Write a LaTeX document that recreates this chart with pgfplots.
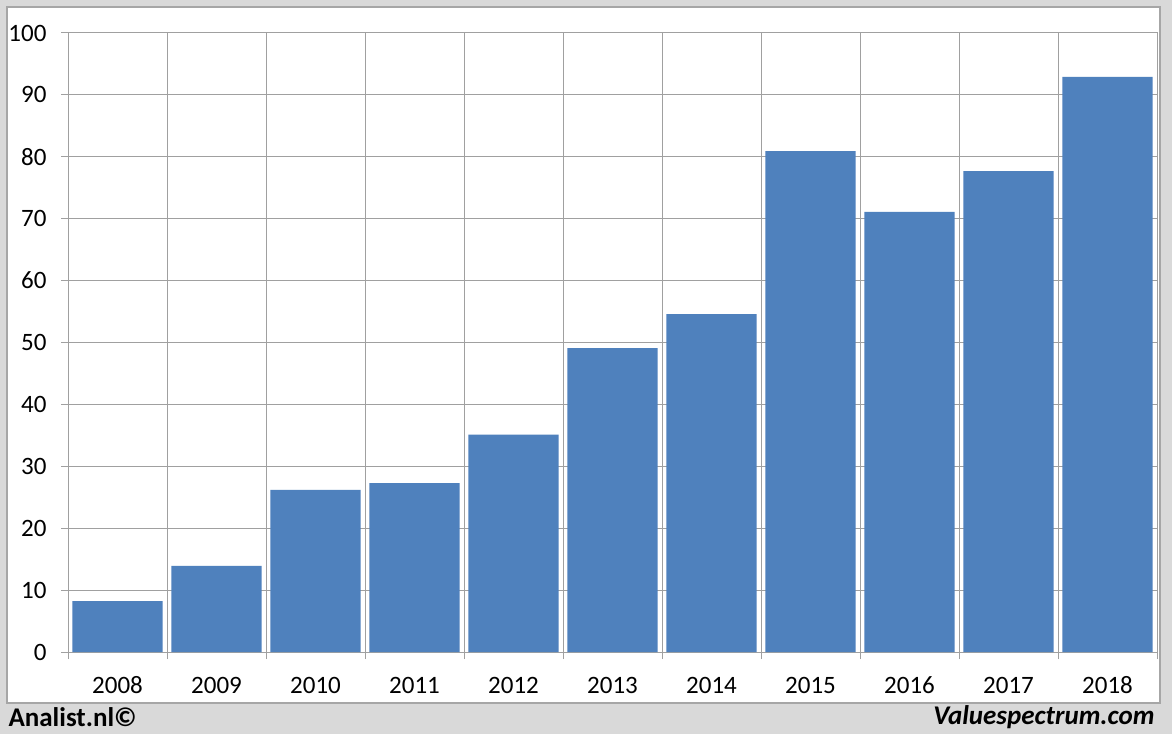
\documentclass[border=0pt]{standalone}
\usepackage{pgfplots}
\pgfplotsset{compat=1.18}
\usepackage{fontspec}
\setmainfont{Carlito}
\definecolor{barblue}{HTML}{4F81BD}
\definecolor{bg}{HTML}{D9D9D9}
\definecolor{gridgray}{HTML}{A0A0A0}
\begin{document}
\begin{tikzpicture}[x=1pt,y=1pt]
\fill[bg] (0,0) rectangle (1172,734);
\fill[white,draw=gray!70,line width=1.5pt] (7,31) rectangle (1160,727);
\begin{axis}[
  at={(68pt,82pt)}, anchor=south west, scale only axis,
  width=1089pt, height=619pt,
  xmin=-0.5, xmax=10.5, ymin=0, ymax=100,
  axis line style={gridgray, line width=1pt},
  xtick={-0.5,0.5,...,10.5}, xticklabels={},
  extra x ticks={0,1,...,10},
  extra x tick labels={2008,2009,2010,2011,2012,2013,2014,2015,2016,2017,2018},
  extra x tick style={grid=none, major tick length=0pt},
  ytick={0,10,...,100},
  xmajorgrids, ymajorgrids,
  grid style={gridgray, line width=1pt},
  tick style={gridgray, line width=1pt},
  major tick length=7pt,
  tick align=outside,
  xtick pos=bottom, ytick pos=left,
  ticklabel style={font=\fontsize{25}{29}\selectfont},
  /pgf/number format/assume math mode=true,
  xticklabel style={anchor=base, yshift=-41pt},
  yticklabel style={xshift=-11pt},
]
\addplot[ybar, bar width=0.91, bar shift=0pt, fill=barblue, draw=none] coordinates {
(0,8.2) (1,13.9) (2,26.2) (3,27.3) (4,35.1) (5,49.1) (6,54.6) (7,80.9) (8,71.1) (9,77.7) (10,92.9)
};
\end{axis}
\node[anchor=west, font=\fontsize{27}{30}\selectfont\bfseries] at (5,17) {Analist.nl©};
\node[anchor=east, font=\fontsize{27}{30}\selectfont\bfseries\itshape] at (1158,17) {Valuespectrum.com};
\end{tikzpicture}
\end{document}
